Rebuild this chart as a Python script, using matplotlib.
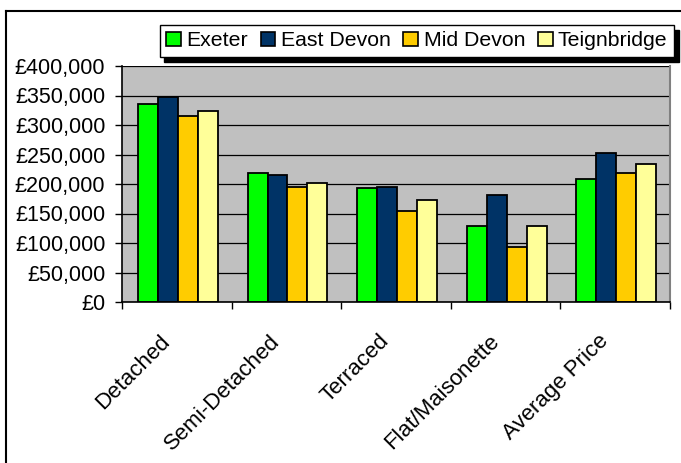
import matplotlib
matplotlib.use("Agg")
import matplotlib.pyplot as plt
from matplotlib.lines import Line2D
from matplotlib.ticker import FuncFormatter, MultipleLocator
from matplotlib.transforms import blended_transform_factory, ScaledTranslation
import numpy as np

plt.rcParams['font.family'] = ['Liberation Sans', 'DejaVu Sans']

categories = ["Detached", "Semi-Detached", "Terraced", "Flat/Maisonette", "Average Price"]
exeter = [335000, 219000, 194000, 129000, 208000]
east_devon = [347000, 216000, 195000, 181000, 253000]
mid_devon = [316000, 195000, 155000, 94000, 219000]
teignbridge = [323000, 201000, 173000, 129000, 234000]

series_names = ["Exeter", "East Devon", "Mid Devon", "Teignbridge"]
series_values = [exeter, east_devon, mid_devon, teignbridge]
colors = ["#00FF00", "#003366", "#FFCC00", "#FFFF99"]

W, H = 681, 463
fig = plt.figure(figsize=(W / 100, H / 100), dpi=100)
ax = fig.add_axes([122 / W, 1 - 302 / H, (670 - 122) / W, (302 - 66) / H])
ax.set_facecolor("#C0C0C0")

x = np.arange(len(categories))
bw = 0.182
offsets = (np.arange(4) - 1.5) * bw + 0.01
for name, vals, col, off in zip(series_names, series_values, colors, offsets):
    ax.bar(x + off, vals, width=bw, color=col, edgecolor="black", linewidth=1.3,
           label=name, zorder=3)

ax.set_xlim(-0.5, len(categories) - 0.5)
ax.set_ylim(0, 400000)
ax.yaxis.set_major_locator(MultipleLocator(50000))
ax.yaxis.set_major_formatter(FuncFormatter(lambda v, p: "£{:,.0f}".format(v)))
ax.yaxis.grid(True, color="black", linewidth=0.9, zorder=1)
ax.set_axisbelow(True)

# tick marks on the category boundaries
ax.set_xticks(np.arange(-0.5, len(categories)), [""] * (len(categories) + 1))
ax.tick_params(axis="x", which="major", length=5, width=1, color="black", direction="out")
ax.tick_params(axis="y", length=5, width=1, color="black", direction="out",
               labelsize=15.5, pad=7)

# slanted category names under each group
label_tf = blended_transform_factory(ax.transData, ax.transAxes) + \
    ScaledTranslation(-6 / 100, -40 / 100, fig.dpi_scale_trans)
for i, name in enumerate(categories):
    ax.text(x[i], 0, name, transform=label_tf, rotation=45, rotation_mode="anchor",
            ha="right", va="baseline", fontsize=16, clip_on=False)

for side in ("left", "bottom"):
    ax.spines[side].set_color("black")
    ax.spines[side].set_linewidth(1.2)
    ax.spines[side].set_zorder(4)
ax.spines["right"].set_color("#808080")
ax.spines["right"].set_linewidth(1.5)
ax.spines["top"].set_visible(False)

leg = fig.legend(loc="upper right", bbox_to_anchor=(674 / W, 1 - 25 / H), ncol=4,
                 frameon=True, fancybox=False, edgecolor="black", framealpha=1,
                 shadow={"ox": 3.5, "oy": -3.5, "color": "black", "alpha": 1},
                 fontsize=15.3, handlelength=0.7, handleheight=0.7,
                 handletextpad=0.25, columnspacing=0.6, borderpad=0.3,
                 borderaxespad=0)
leg.get_frame().set_linewidth(1.0)
for h in leg.legend_handles:
    h.set_linewidth(1.2)

# chart frame: top and left edges
fig.add_artist(Line2D([5.5 / W, 5.5 / W], [0, 1 - 10.5 / H], transform=fig.transFigure,
                      color="black", linewidth=1.5))
fig.add_artist(Line2D([5.5 / W, 1], [1 - 10.5 / H, 1 - 10.5 / H], transform=fig.transFigure,
                      color="black", linewidth=1.5))

fig.savefig("out.png", dpi=100)
